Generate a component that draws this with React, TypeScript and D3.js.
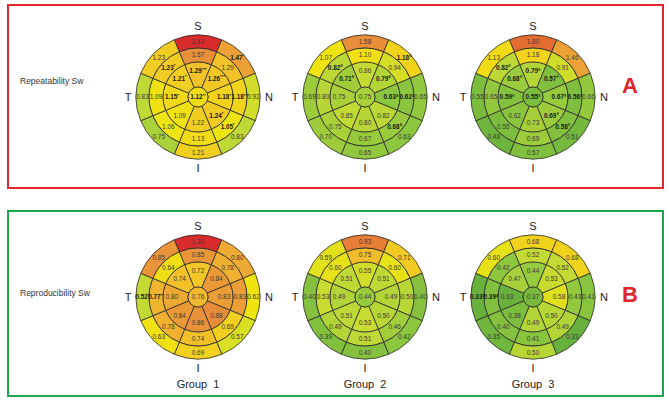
import React from "react";
import * as d3 from "d3";

// ---- Data (sector order: S, SN, N, NI, I, IT, T, TS) ----
const sectorNames = ["S", "SN", "N", "NI", "I", "IT", "T", "TS"];
const groups = ["Group 1", "Group 2", "Group 3"];
const rowTitles = ["Repeatability Sw", "Reproducibility Sw"];
const panelLetters = ["A", "B"];

// Repeatability (row A)
const repCenter = [1.12, 0.75, 0.55];
const repInner = [
  [1.29, 1.26, 1.18, 1.24, 1.22, 1.09, 1.15, 1.21],
  [0.86, 0.79, 0.63, 0.82, 0.80, 0.85, 0.75, 0.71],
  [0.79, 0.57, 0.67, 0.69, 0.73, 0.62, 0.59, 0.68],
];
const repMiddle = [
  [1.57, 1.29, 1.18, 1.05, 1.13, 1.06, 1.09, 1.23],
  [1.10, 0.94, 0.62, 0.68, 0.67, 0.75, 0.80, 0.82],
  [1.18, 0.91, 0.56, 0.58, 0.69, 0.55, 0.65, 0.82],
];
const repOuter = [
  [2.12, 1.47, 0.92, 0.83, 1.21, 0.75, 0.83, 1.23],
  [1.58, 1.18, 0.65, 0.63, 0.65, 0.70, 0.69, 1.07],
  [1.80, 1.46, 0.66, 0.51, 0.57, 0.48, 0.55, 1.13],
];
const repCenterMark = ["**", "", "§"];
const repInnerMark = [
  ["***", "***", "*", "*", "", "", "*", "*"],
  ["", "δ", "δ", "", "", "", "", "δ"],
  ["§", "§", "§", "§", "", "", "§", "§"],
];
const repMiddleMark = [
  ["", "", "***", "*", "", "", "", "*"],
  ["", "", "δ", "δ", "", "", "", "δ"],
  ["", "", "§", "§", "", "", "", "§"],
];
const repOuterMark = [
  ["", "*", "", "", "", "", "", ""],
  ["", "δ", "", "", "", "", "", ""],
  ["", "", "", "", "", "", "", ""],
];

// Reproducibility (row B)
const proCenter = [0.76, 0.44, 0.37];
const proInner = [
  [0.72, 0.84, 0.83, 0.88, 0.86, 0.84, 0.80, 0.74],
  [0.55, 0.51, 0.49, 0.50, 0.53, 0.51, 0.49, 0.51],
  [0.44, 0.53, 0.58, 0.50, 0.49, 0.38, 0.33, 0.47],
];
const proMiddle = [
  [0.85, 0.78, 0.83, 0.69, 0.74, 0.78, 0.77, 0.64],
  [0.75, 0.60, 0.50, 0.46, 0.51, 0.49, 0.53, 0.60],
  [0.52, 0.52, 0.43, 0.49, 0.41, 0.40, 0.39, 0.42],
];
const proOuter = [
  [1.20, 0.80, 0.62, 0.57, 0.69, 0.63, 0.52, 0.85],
  [0.93, 0.71, 0.40, 0.42, 0.40, 0.39, 0.40, 0.59],
  [0.68, 0.68, 0.41, 0.33, 0.50, 0.35, 0.33, 0.60],
];
const proCenterMark = ["", "", ""];
const proInnerMark = [
  ["", "", "", "", "", "", "", ""],
  ["", "", "", "", "", "", "", ""],
  ["", "", "", "", "", "", "", ""],
];
const proMiddleMark = [
  ["", "", "", "", "", "", "**", ""],
  ["", "", "", "", "", "", "", ""],
  ["", "", "", "", "", "", "δ", ""],
];
const proOuterMark = [
  ["", "", "", "", "", "", "*", ""],
  ["", "", "", "", "", "", "", ""],
  ["", "", "", "", "", "", "δ", ""],
];

// colour ramp
const rampColors = ["#69b13d", "#8dc63f", "#c3da34", "#f0e410", "#f2c12a", "#e9913a", "#e2662f", "#d92b2b"];
const repDomain = [0.45, 0.63, 0.85, 1.07, 1.3, 1.55, 1.85, 2.12];
const proDomain = [0.33, 0.42, 0.52, 0.62, 0.74, 0.86, 1.02, 1.2];

const W = 669;
const H = 401;
const colX = [198, 365, 533];
const rowY = [97, 297];
const R = [10, 35, 49, 62];
const textR = [26, 42, 55.5];
const FONT = "'Liberation Sans', Arial, Helvetica, sans-serif";

type Rows = { center: number[]; inner: number[][]; middle: number[][]; outer: number[][];
  centerMark: string[]; innerMark: string[][]; middleMark: string[][]; outerMark: string[][]; domain: number[] };

const rowsData: Rows[] = [
  { center: repCenter, inner: repInner, middle: repMiddle, outer: repOuter, centerMark: repCenterMark,
    innerMark: repInnerMark, middleMark: repMiddleMark, outerMark: repOuterMark, domain: repDomain },
  { center: proCenter, inner: proInner, middle: proMiddle, outer: proOuter, centerMark: proCenterMark,
    innerMark: proInnerMark, middleMark: proMiddleMark, outerMark: proOuterMark, domain: proDomain },
];

function Value({ x, y, v, mark }: { x: number; y: number; v: number; mark: string }) {
  const bold = mark !== "";
  return (
    <text x={x} y={y + 2.3} textAnchor="middle" fontFamily={FONT} fontSize={6.4}
      fontWeight={bold ? "bold" : "normal"} fill={bold ? "#1a1a1a" : "#3a3a3a"}>
      {v.toFixed(2)}
      {bold ? <tspan fontSize={4.2} dy={-2.6}>{mark}</tspan> : null}
    </text>
  );
}

function Target({ cx, cy, d, gi, group }: { cx: number; cy: number; d: Rows; gi: number; group: boolean }) {
  const color = d3.scaleLinear<string>().domain(d.domain).range(rampColors).clamp(true);
  const arc = d3.arc();
  const rings = [d.inner[gi], d.middle[gi], d.outer[gi]];
  const marks = [d.innerMark[gi], d.middleMark[gi], d.outerMark[gi]];
  const step = (2 * Math.PI) / sectorNames.length;
  return (
    <g transform={`translate(${cx},${cy})`}>
      {rings.map((vals, ri) =>
        vals.map((v, si) => {
          const a = si * step;
          const p = arc({ innerRadius: R[ri], outerRadius: R[ri + 1], startAngle: a - step / 2, endAngle: a + step / 2 }) as string;
          return <path key={`${ri}-${si}`} d={p} fill={color(v)} stroke="#2a2a2a" strokeWidth={0.8} />;
        })
      )}
      <circle r={R[0]} fill={color(d.center[gi])} stroke="#2a2a2a" strokeWidth={0.8} />
      {rings.map((vals, ri) =>
        vals.map((v, si) => {
          const a = si * step;
          return <Value key={`t${ri}-${si}`} x={textR[ri] * Math.sin(a)} y={-textR[ri] * Math.cos(a)} v={v} mark={marks[ri][si]} />;
        })
      )}
      <Value x={0} y={0} v={d.center[gi]} mark={d.centerMark[gi]} />
      <text x={0} y={-67} textAnchor="middle" fontFamily={FONT} fontSize={11} fill="#222222">S</text>
      <text x={-70} y={4} textAnchor="middle" fontFamily={FONT} fontSize={11} fill="#222222">T</text>
      <text x={71} y={4} textAnchor="middle" fontFamily={FONT} fontSize={11} fill="#222222">N</text>
      <text x={0} y={75} textAnchor="middle" fontFamily={FONT} fontSize={11} fill="#222222">I</text>
      {group ? (
        <text x={0} y={91} textAnchor="middle" fontFamily={FONT} fontSize={11} fill="#222222" wordSpacing={3}>{groups[gi]}</text>
      ) : null}
    </g>
  );
}

export default function App() {
  const boxColors = ["#e2262b", "#1ea64c"];
  const boxes = [
    { y: 5, h: 183 },
    { y: 211, h: 185 },
  ];
  const titleY = [81, 293];
  const letterY = [93, 302];
  return (
    <svg width={W} height={H} style={{ position: "fixed", left: 0, top: 0, background: "#fff" }}>
      <rect x={0} y={0} width={W} height={H} fill="#fff" />
      {boxes.map((b, i) => (
        <rect key={i} x={8} y={b.y} width={655} height={b.h} fill="none" stroke={boxColors[i]} strokeWidth={2} />
      ))}
      {rowTitles.map((t, i) => (
        <text key={t} x={20} y={titleY[i] + 3} fontFamily={FONT} fontSize={8.5} fill="#333">{t}</text>
      ))}
      {panelLetters.map((l, i) => (
        <text key={l} x={630} y={letterY[i]} textAnchor="middle" fontFamily={FONT} fontSize={22} fontWeight="bold" fill="#e2262b">{l}</text>
      ))}
      {rowsData.map((d, ri) =>
        colX.map((cx, gi) => (
          <Target key={`${ri}-${gi}`} cx={cx} cy={rowY[ri]} d={d} gi={gi} group={ri === 1} />
        ))
      )}
    </svg>
  );
}
